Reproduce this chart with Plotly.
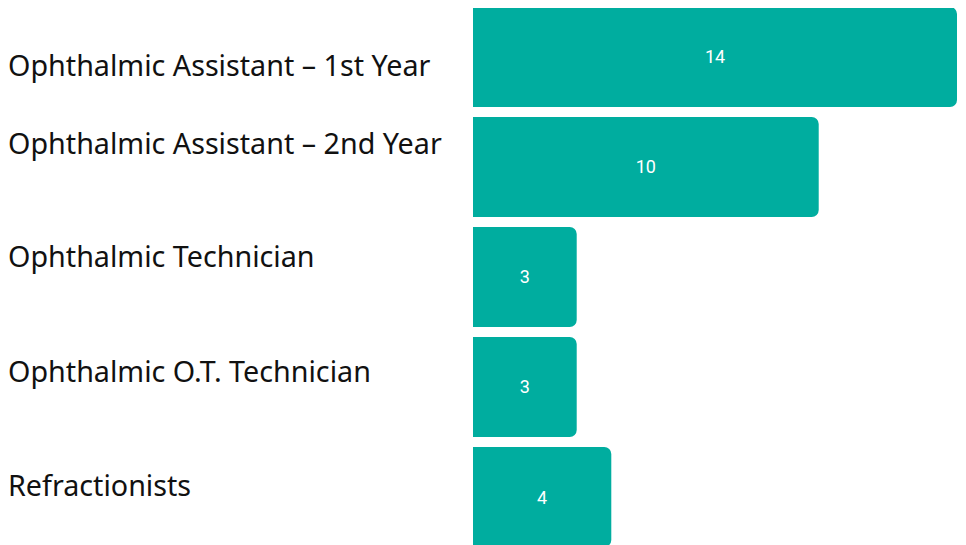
import plotly.graph_objects as go

# course names and number of students
courses = ['Ophthalmic Assistant – 1st Year', 'Ophthalmic Assistant – 2nd Year',
           'Ophthalmic Technician', 'Ophthalmic O.T. Technician', 'Refractionists']
students = [14, 10, 3, 3, 4]
# vertical nudge (px) of each left label relative to its bar
label_shift = [-8, 24, 21, 16, 13]

teal = '#00AD9F'

fig = go.Figure(go.Bar(
    x=students, y=courses, orientation='h',
    marker=dict(color=teal, line=dict(width=0), cornerradius=7),
    width=0.909,
    text=students, textposition='inside', insidetextanchor='middle',
    textangle=0, constraintext='none',
    textfont=dict(family='Roboto', size=18, color='white'),
    hoverinfo='x+y'))

#labels on the left drawn as annotations so they can sit off the bar centre
for c, s in zip(courses, label_shift):
    fig.add_annotation(text=c, x=-0.964, xref='paper', y=c, yref='y',
                       xanchor='left', yanchor='middle', yshift=s, showarrow=False,
                       font=dict(family='Noto Sans', size=28.7, color='#111111'))

# the page body adds an 8px offset, so margins/ranges are pulled back by 8px
fig.update_layout(width=966, height=545, margin=dict(l=465, r=17, t=0, b=0),
                  paper_bgcolor='white', plot_bgcolor='white', showlegend=False,
                  xaxis=dict(range=[0, 14], visible=False, fixedrange=True),
                  yaxis=dict(range=[4.509, -0.445], visible=False, fixedrange=True))

fig.write_html("out.html")
